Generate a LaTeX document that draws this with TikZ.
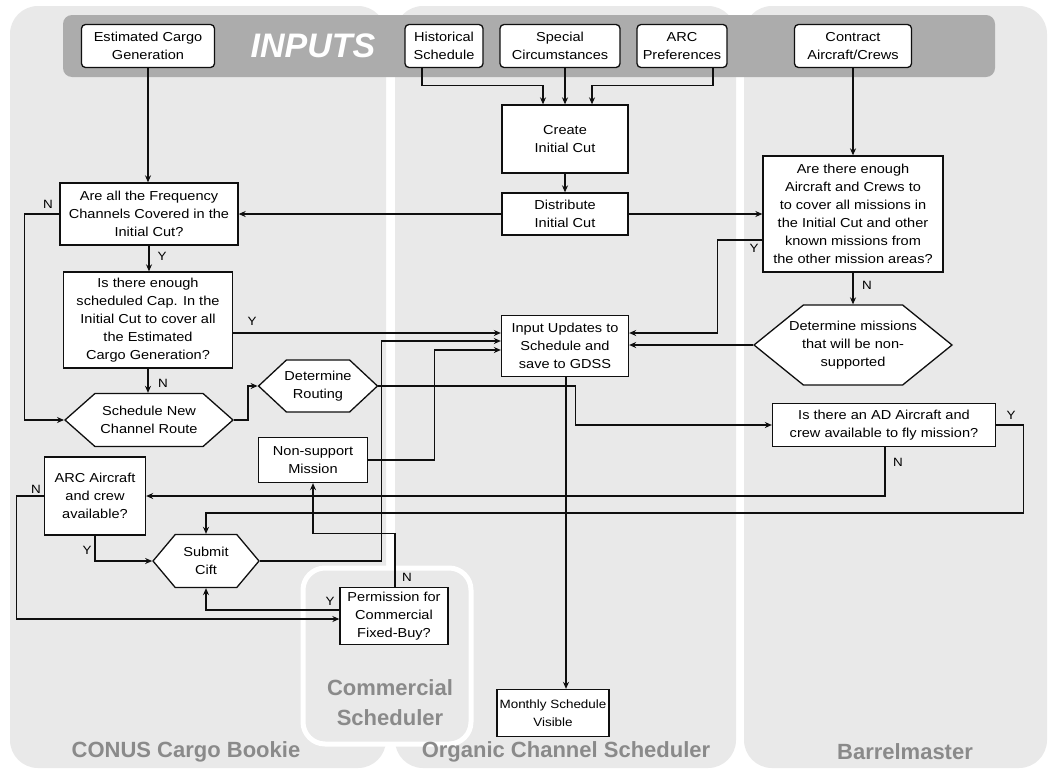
\documentclass[tikz,border=0pt]{standalone}
\usepackage{fontspec}
\setmainfont{Liberation Sans}
\newfontfamily\boxfont[FakeStretch=1.12]{Liberation Sans}
\usepackage{tikz}
\usetikzlibrary{shapes.geometric, shapes.symbols, arrows.meta, positioning, calc}
\definecolor{lanegray}{RGB}{233,233,233}
\definecolor{bandgray}{RGB}{172,172,172}
\definecolor{titlegray}{RGB}{138,138,138}
\definecolor{mydark}{RGB}{15,15,15}
\newcommand{\nodefont}{\boxfont\fontsize{13}{18}\selectfont}
\tikzset{
  lane/.style={fill=lanegray, draw=none, rounded corners=28pt},
  lanetitle/.style={font=\fontsize{22}{30}\selectfont\bfseries, text=titlegray, align=center},
  inblock/.style={rectangle, draw=mydark, fill=white, rounded corners=4pt,
    align=center, font=\nodefont, inner sep=1pt, line width=1.3pt},
  block/.style={rectangle, draw=mydark, fill=white,
    align=center, font=\nodefont, inner sep=1pt, line width=1.3pt},
  hexnode/.style={signal, signal to=west and east, draw=mydark, fill=white,
    align=center, font=\nodefont, inner sep=1pt, line width=1.3pt},
  ynlabel/.style={font=\boxfont\fontsize{12}{12}\selectfont, inner sep=0pt},
  arrow/.style={-{Stealth[length=7pt,width=6pt]}, line width=1.2pt, color=mydark}
}

\begin{document}
\begin{tikzpicture}[x=1pt, y=-1pt, >=Stealth, thick]
  \useasboundingbox (0,0) rectangle (1051,771);
  \fill[white] (0,0) rectangle (1051,771);

  % Swim lanes
  \path[lane] (10,6) rectangle (386,768);
  \path[lane] (395,6) rectangle (736,768);
  \path[lane] (744,6) rectangle (1047,768);
  \draw[white, line width=5pt, fill=lanegray, rounded corners=22pt] (303,568) rectangle (471,744);
  \fill[bandgray, rounded corners=9pt] (63,15) rectangle (995,77);
  \node[font=\fontsize{34}{34}\selectfont\bfseries\itshape, text=white] (inputs) at (313,46) {INPUTS};

  \node[lanetitle] (conus) at (186,752) {CONUS Cargo Bookie};
  \node[lanetitle] (organic) at (566,752) {Organic Channel Scheduler};
  \node[lanetitle] (barrel) at (905,752) {Barrelmaster};
  \node[lanetitle] (commerc) at (390,703) {Commercial\\Scheduler};

  % Inputs
  \node[inblock, minimum width=133pt, minimum height=43pt] (ecg) at (148,46) {Estimated Cargo\\Generation};
  \node[inblock, minimum width=78pt, minimum height=43pt] (hist) at (444,46) {Historical\\Schedule};
  \node[inblock, minimum width=120pt, minimum height=43pt] (spec) at (560,46) {Special\\Circumstances};
  \node[inblock, minimum width=90pt, minimum height=43pt] (arcp) at (682,46) {ARC\\Preferences};
  \node[inblock, minimum width=117pt, minimum height=43pt] (contr) at (853,46) {Contract\\Aircraft/Crews};

  % Process steps
  \node[block, minimum width=126pt, minimum height=68pt] (create) at (565,139) {Create\\Initial Cut};
  \node[block, minimum width=126pt, minimum height=42pt] (distr) at (565,214) {Distribute\\Initial Cut};
  \node[block, minimum width=178pt, minimum height=62pt] (freq) at (149,214) {Are all the Frequency\\Channels Covered in the\\Initial Cut?};
  \node[block, minimum width=169pt, minimum height=96pt] (cap) at (148,320) {Is there enough\\scheduled Cap. In the\\Initial Cut to cover all\\the Estimated\\Cargo Generation?};
  \node[hexnode, minimum width=168pt, minimum height=53pt, signal pointer angle=83] (sched) at (149,420) {Schedule New\\Channel Route};
  \node[hexnode, minimum width=117pt, minimum height=52pt, signal pointer angle=86, inner xsep=-2pt] (route) at (318,386) {Determine\\Routing};
  \node[block, minimum width=127pt, minimum height=61pt] (upd) at (565,346) {Input Updates to\\Schedule and\\save to GDSS};
  \node[block, minimum width=180pt, minimum height=116pt] (enough) at (853,214) {Are there enough\\Aircraft and Crews to\\to cover all missions in\\the Initial Cut and other\\known missions from\\the other mission areas?};
  \node[hexnode, minimum width=198pt, minimum height=80pt, signal pointer angle=78, inner xsep=-19pt] (dmis) at (853,345) {Determine missions\\that will be non-\\supported};
  \node[block, minimum width=223pt, minimum height=43pt] (ad) at (884,425) {Is there an AD Aircraft and\\crew available to fly mission?};
  \node[block, minimum width=109pt, minimum height=45pt] (nons) at (313,460) {Non-support\\Mission};
  \node[block, minimum width=101pt, minimum height=78pt] (arcac) at (95,496) {ARC Aircraft\\and crew\\available?};
  \node[hexnode, minimum width=106pt, minimum height=53pt, signal pointer angle=100] (subm) at (206,561) {Submit\\Cift};
  \node[block, minimum width=108pt, minimum height=57pt] (perm) at (394,616) {Permission for\\Commercial\\Fixed-Buy?};
  \node[block, minimum width=112pt, minimum height=47pt, font=\boxfont\fontsize{12}{18}\selectfont] (month) at (553,713) {Monthly Schedule\\Visible};

  % Connectors
  \draw[arrow] ([xshift=-22pt]hist.south) -- ++(0,17) -| ([xshift=-22pt]create.north);
  \draw[arrow] (spec.south -| create.north) -- (create.north);
  \draw[arrow] ([xshift=31pt]arcp.south) -- ++(0,17) -| ([xshift=27pt]create.north);
  \draw[arrow] (create) -- (distr);
  \draw[arrow] (distr.west) -- (freq.east);
  \draw[arrow] (distr.east) -- (enough.west);
  \draw[arrow] (contr.south) -- (enough.north);
  \draw[arrow] (ecg.south) -- (ecg.south |- freq.north);
  \draw[arrow] (freq.south) -- (freq.south |- cap.north);
  \draw[arrow] (freq.west) -- ++(-35,0) |- (sched.west);
  \draw[arrow] (cap.south) -- (cap.south |- sched.north);
  \draw[arrow] ([yshift=-13pt]cap.east) -- ([yshift=13pt]upd.west);
  \draw[arrow] (sched.east) -- ++(14,0) |- (route.west);
  \draw[arrow] (route.east) -- ++(197,0) |- (ad.west);
  \draw[arrow] ([xshift=1pt]upd.south) -- ([xshift=1pt]upd.south |- month.north);
  \draw[arrow] ([yshift=-26pt]enough.west) -- ++(-45,0) |- ([yshift=13pt]upd.east);
  \draw[arrow] (enough.south) -- (dmis.north);
  \draw[arrow] (dmis.west) -- (dmis.west -| upd.east);
  \draw[arrow] (ad.east) -- ++(27,0) -- ++(0,88) -| (subm.north);
  \draw[arrow] ([xshift=1pt]ad.south) |- (arcac.east);
  \draw[arrow] (arcac.west) -- ++(-27,0) |- ([yshift=-3pt]perm.west);
  \draw[arrow] (arcac.south) |- (subm.west);
  \draw[arrow] (subm.east) -- ++(122,0) |- ([yshift=5pt]upd.west);
  \draw[arrow] (nons.east) -- ++(66,0) |- ([yshift=-4pt]upd.west);
  \draw[arrow] ([xshift=1pt]perm.north) -- ++(0,-53) -| (nons.south);
  \draw[arrow] ([yshift=6pt]perm.west) -| (subm.south);

  % Y / N labels
  \node[ynlabel] (freqn) at (48,204) {N};
  \node[ynlabel] (freqy) at (162,256) {Y};
  \node[ynlabel] (capy) at (252,321) {Y};
  \node[ynlabel] (capn) at (163,383) {N};
  \node[ynlabel] (enoughy) at (754,248) {Y};
  \node[ynlabel] (enoughn) at (867,285) {N};
  \node[ynlabel] (ady) at (1011,415) {Y};
  \node[ynlabel] (adn) at (898,462) {N};
  \node[ynlabel] (arcn) at (36,489) {N};
  \node[ynlabel] (arcy) at (87,550) {Y};
  \node[ynlabel] (permn) at (407,577) {N};
  \node[ynlabel] (permy) at (330,601) {Y};
\end{tikzpicture}
\end{document}
